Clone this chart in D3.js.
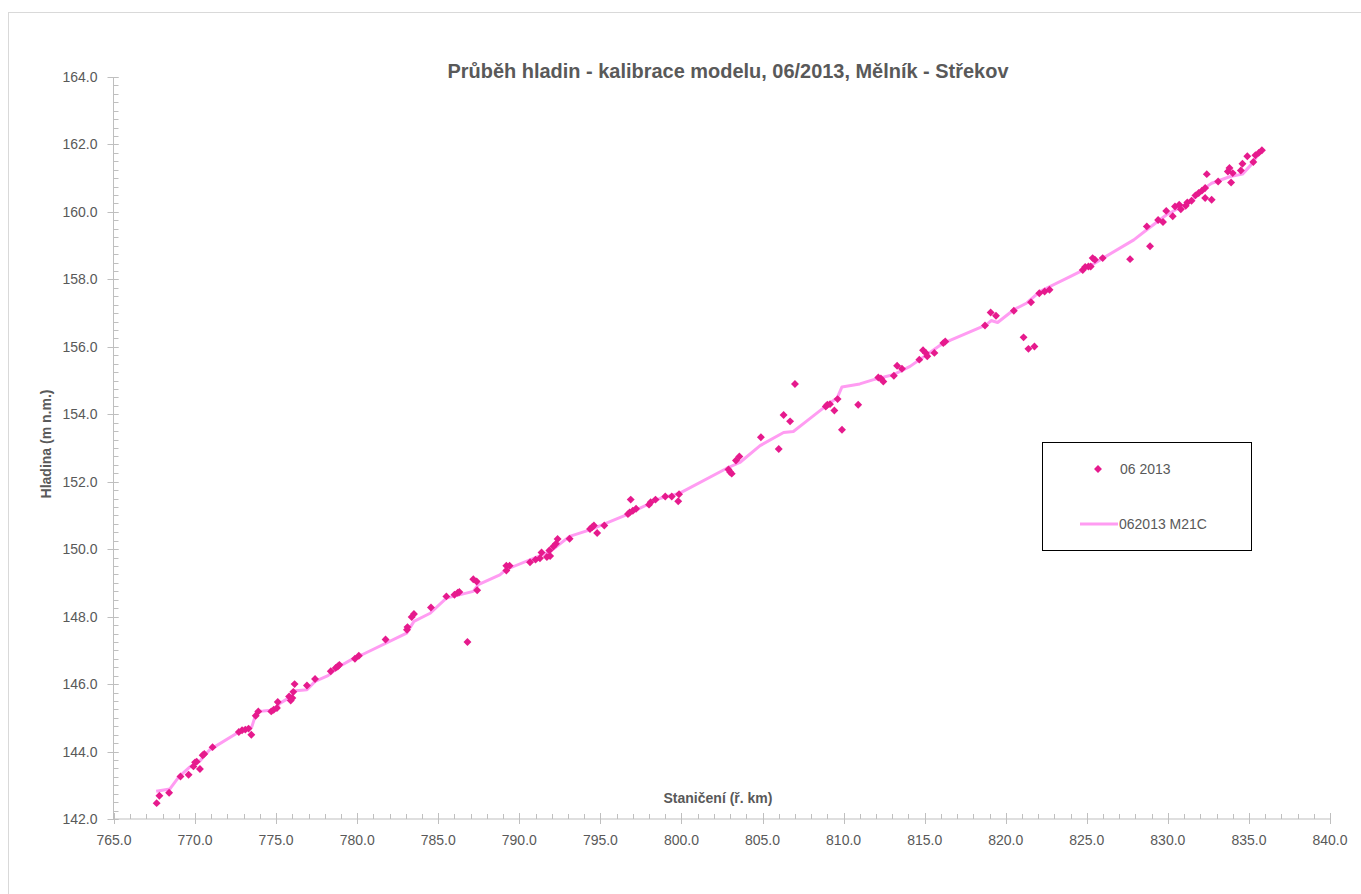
<!DOCTYPE html>
<html>
<head>
<meta charset="utf-8">
<script src="https://d3js.org/d3.v7.min.js"></script>
<style>
  body { margin: 0; background: #fff; }
  text { font-family: "Liberation Sans", Arial, sans-serif; fill: #595959; }
</style>
</head>
<body>
<div id="my_dataviz"></div>
<script>

// measured water levels 06/2013 (river km, m a.s.l.)
var obsKm = [767.63, 767.8, 768.4, 769.1, 769.6, 769.9, 770.0, 770.1, 770.3, 770.47, 770.57, 771.08,
  772.7, 772.9, 773.1, 773.3, 773.47, 773.74, 773.9, 774.7, 774.85, 775.05, 775.1, 775.8, 775.9, 776.0,
  776.06, 776.14, 776.9, 777.4, 778.37, 778.67, 778.8, 778.9, 779.86, 780.1, 781.75, 783.07, 783.1,
  783.36, 783.5, 784.55, 785.5, 786.0, 786.2, 786.3, 786.8, 787.16, 787.37, 787.4, 789.2, 789.2, 789.4,
  790.66, 791.0, 791.27, 791.37, 791.7, 791.9, 791.85, 792.1, 792.26, 792.36, 793.1, 794.36, 794.5,
  794.6, 794.8, 795.24, 796.7, 796.8, 797.0, 796.87, 797.2, 798.0, 798.1, 798.4, 799.0, 799.4, 799.8,
  799.85, 802.9, 803.0, 803.1, 803.36, 803.57, 804.9, 806.0, 806.3, 806.7, 807.0, 808.9, 809.0, 809.16,
  809.43, 809.63, 809.9, 810.9, 812.14, 812.3, 812.45, 813.1, 813.3, 813.6, 814.67, 814.9, 815.07,
  815.16, 815.6, 816.15, 816.27, 818.72, 819.07, 819.4, 820.5, 821.1, 821.4, 821.77, 821.56, 822.07,
  822.4, 822.7, 824.75, 824.9, 825.1, 825.24, 825.36, 825.5, 825.98, 827.67, 828.7, 828.9, 829.4,
  829.7, 829.9, 830.3, 830.44, 830.7, 830.8, 831.1, 831.2, 831.46, 831.7, 831.9, 832.1, 832.3, 832.4,
  832.3, 832.7, 833.1, 833.7, 833.8, 833.9, 834.0, 834.5, 834.6, 834.9, 835.27, 835.4, 835.6, 835.8];
var obsLevel = [142.47, 142.69, 142.78, 143.26, 143.31, 143.56, 143.68, 143.70, 143.48, 143.89, 143.93, 144.13,
  144.58, 144.63, 144.65, 144.68, 144.50, 145.06, 145.19, 145.19, 145.24, 145.29, 145.47, 145.63, 145.51, 145.59,
  145.77, 146.0, 145.96, 146.15, 146.38, 146.48, 146.52, 146.57, 146.75, 146.84, 147.32, 147.61, 147.69,
  147.99, 148.08, 148.27, 148.6, 148.65, 148.71, 148.73, 147.25, 149.11, 149.04, 148.78, 149.37, 149.51, 149.51,
  149.61, 149.69, 149.73, 149.9, 149.77, 149.8, 149.96, 150.08, 150.16, 150.3, 150.31, 150.6, 150.66,
  150.7, 150.48, 150.7, 151.04, 151.09, 151.14, 151.47, 151.2, 151.32, 151.39, 151.47, 151.56, 151.56, 151.42,
  151.63, 152.36, 152.29, 152.24, 152.63, 152.75, 153.32, 152.97, 153.98, 153.79, 154.9, 154.23, 154.28, 154.3,
  154.11, 154.45, 153.54, 154.28, 155.09, 155.06, 154.97, 155.14, 155.44, 155.35, 155.62, 155.9, 155.82,
  155.72, 155.82, 156.11, 156.16, 156.63, 157.02, 156.92, 157.07, 156.28, 155.94, 156.01, 157.32, 157.59,
  157.64, 157.69, 158.28, 158.37, 158.38, 158.38, 158.63, 158.58, 158.63, 158.6, 159.57, 158.98, 159.76,
  159.7, 160.03, 159.87, 160.16, 160.21, 160.08, 160.18, 160.28, 160.33, 160.49, 160.56, 160.63, 160.71, 161.12,
  160.41, 160.36, 160.9, 161.2, 161.3, 160.87, 161.15, 161.23, 161.43, 161.65, 161.48, 161.68, 161.75, 161.83];

// model M21C profile
var modelKm = [767.6, 768.45, 769.0, 769.7, 770.3, 770.9, 772.7, 773.5, 773.8, 774.2, 775.0, 775.2, 775.9,
  776.2, 776.4, 776.9, 777.4, 778.2, 778.9, 779.8, 780.3, 783.05, 783.5, 784.5, 785.5, 787.16, 787.47,
  788.8, 789.2, 791.9, 793.1, 794.4, 796.6, 798.7, 799.5, 799.9, 802.8, 803.6, 804.85, 806.3, 806.9,
  807.7, 809.0, 809.6, 809.9, 811.0, 811.8, 813.05, 814.1, 816.0, 816.6, 818.8, 819.1, 819.5, 820.5,
  821.3, 822.1, 824.0, 824.8, 826.0, 827.9, 828.7, 829.9, 831.4, 832.4, 832.7, 833.85, 834.6, 835.1, 835.7];
var modelLevel = [142.82, 142.89, 143.25, 143.55, 143.72, 144.05, 144.58, 144.73, 145.19, 145.2, 145.24, 145.42, 145.62,
  145.8, 145.81, 145.83, 146.08, 146.25, 146.52, 146.77, 146.87, 147.51, 147.86, 148.1, 148.55, 148.75, 148.95,
  149.24, 149.4, 149.93, 150.38, 150.58, 151.02, 151.51, 151.61, 151.66, 152.4, 152.57, 153.07, 153.46, 153.49,
  153.79, 154.28, 154.48, 154.81, 154.9, 155.02, 155.17, 155.42, 156.06, 156.2, 156.65, 156.78, 156.72, 157.1,
  157.3, 157.64, 158.09, 158.28, 158.63, 159.17, 159.47, 159.91, 160.31, 160.75, 160.85, 161.05, 161.12, 161.38, 161.79];

var xTicks = d3.range(765, 840.1, 5);
var yTicks = d3.range(142, 164.1, 2);

var width = 1361, height = 894;
var margin = {top: 77, right: 31, bottom: 75, left: 114};

var svg = d3.select("#my_dataviz")
  .append("svg")
    .attr("width", width)
    .attr("height", height);

// chart border
svg.append("rect")
  .attr("x", 8.5).attr("y", 12.5)
  .attr("width", 1400).attr("height", 900)
  .attr("fill", "none").attr("stroke", "#d9d9d9");

var x = d3.scaleLinear().domain([765, 840]).range([margin.left, width - margin.right]);
var y = d3.scaleLinear().domain([142, 164]).range([height - margin.bottom, margin.top]);

var axisColor = "#bfbfbf";

// X axis: minor ticks inside, major crossing
var gx = svg.append("g").attr("transform", "translate(0," + y(142) + ")");
gx.append("line").attr("x1", x(765)).attr("x2", x(840)).attr("stroke", axisColor);
gx.selectAll(".minor").data(d3.range(765, 840.1, 1)).enter().append("line")
  .attr("x1", function (d) { return Math.round(x(d)) + 0.5; })
  .attr("x2", function (d) { return Math.round(x(d)) + 0.5; })
  .attr("y1", -5).attr("y2", 0).attr("stroke", axisColor);
gx.selectAll(".major").data(xTicks).enter().append("line")
  .attr("x1", function (d) { return Math.round(x(d)) + 0.5; })
  .attr("x2", function (d) { return Math.round(x(d)) + 0.5; })
  .attr("y1", -6).attr("y2", 5).attr("stroke", axisColor);
gx.selectAll(".lab").data(xTicks).enter().append("text")
  .attr("x", function (d) { return x(d); })
  .attr("y", 26)
  .attr("text-anchor", "middle")
  .style("font-size", "14px")
  .text(function (d) { return d.toFixed(1); });

// Y axis
var gy = svg.append("g").attr("transform", "translate(" + (x(765) - 0.5) + ",0)");
gy.append("line").attr("y1", y(164)).attr("y2", y(142)).attr("stroke", axisColor);
gy.selectAll(".minor").data(d3.range(142, 164.01, 0.25)).enter().append("line")
  .attr("y1", function (d) { return Math.round(y(d)) + 0.5; })
  .attr("y2", function (d) { return Math.round(y(d)) + 0.5; })
  .attr("x1", 0).attr("x2", 5).attr("stroke", axisColor);
gy.selectAll(".major").data(yTicks).enter().append("line")
  .attr("y1", function (d) { return Math.round(y(d)) + 0.5; })
  .attr("y2", function (d) { return Math.round(y(d)) + 0.5; })
  .attr("x1", -6).attr("x2", 5).attr("stroke", axisColor);
gy.selectAll(".lab").data(yTicks).enter().append("text")
  .attr("x", -16)
  .attr("y", function (d) { return y(d) + 5; })
  .attr("text-anchor", "end")
  .style("font-size", "14px")
  .text(function (d) { return d.toFixed(1); });

// model line
var model = modelKm.map(function (d, i) { return [d, modelLevel[i]]; });
svg.append("path")
  .datum(model)
  .attr("fill", "none")
  .attr("stroke", "#ff9cf2")
  .attr("stroke-width", 3)
  .attr("stroke-linejoin", "round")
  .attr("d", d3.line().x(function (d) { return x(d[0]); }).y(function (d) { return y(d[1]); }));

// observed points
var obs = obsKm.map(function (d, i) { return {km: d, h: obsLevel[i]}; });
var diamond = d3.symbol().type(d3.symbolDiamond2).size(40);
svg.append("g")
  .selectAll("path")
  .data(obs)
  .enter()
  .append("path")
    .attr("d", diamond)
    .attr("transform", function (d) { return "translate(" + x(d.km) + "," + y(d.h) + ")"; })
    .attr("fill", "#e61a8d");

// title
svg.append("text")
  .attr("x", 728).attr("y", 78)
  .attr("text-anchor", "middle")
  .attr("textLength", 561).attr("lengthAdjust", "spacingAndGlyphs")
  .style("font-size", "20px").style("font-weight", "bold")
  .text("Průběh hladin - kalibrace modelu, 06/2013, Mělník - Střekov");

// axis titles
svg.append("text")
  .attr("x", 718).attr("y", 803)
  .attr("text-anchor", "middle")
  .style("font-size", "14px").style("font-weight", "bold")
  .text("Staničení  (ř. km)");

svg.append("text")
  .attr("transform", "translate(51,444) rotate(-90)")
  .attr("text-anchor", "middle")
  .style("font-size", "14px").style("font-weight", "bold")
  .text("Hladina  (m n.m.)");

// legend
var lg = svg.append("g");
lg.append("rect")
  .attr("x", 1042.5).attr("y", 442.5).attr("width", 209).attr("height", 108)
  .attr("fill", "#fff").attr("stroke", "#000").attr("stroke-width", 1);
lg.append("path").attr("d", diamond).attr("transform", "translate(1098,469)").attr("fill", "#e61a8d");
lg.append("text").attr("x", 1120).attr("y", 474).style("font-size", "14px").text("06 2013");
lg.append("line").attr("x1", 1080).attr("x2", 1118).attr("y1", 524).attr("y2", 524)
  .attr("stroke", "#ff9cf2").attr("stroke-width", 3);
lg.append("text").attr("x", 1119).attr("y", 529).style("font-size", "14px").text("062013 M21C");

</script>
</body>
</html>
